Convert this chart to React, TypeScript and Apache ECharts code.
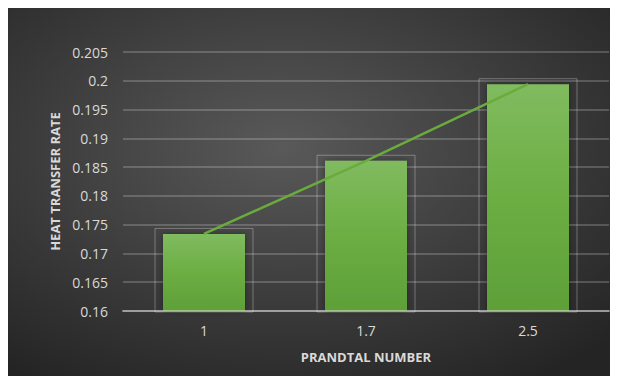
import React, { useEffect, useRef } from "react";
import * as echarts from "echarts";

const categories = ["1", "1.7", "2.5"];
const heatTransferRate = [0.1734, 0.1861, 0.1994];
const yTicks = { min: 0.16, max: 0.205, interval: 0.005 };

export default function App() {
  const ref = useRef<HTMLDivElement>(null);
  useEffect(() => {
    document.body.style.overflow = "hidden";
    const chart = echarts.init(ref.current!, null, { renderer: "svg" });
    const font = "'Open Sans', 'Liberation Sans', sans-serif";
    chart.setOption({
      animation: false,
      backgroundColor: {
        type: "radial",
        x: 0.45,
        y: 0.38,
        r: 0.75,
        colorStops: [
          { offset: 0, color: "#595959" },
          { offset: 1, color: "#242424" },
        ],
      },
      grid: { left: 115, right: 9, top: 44, bottom: 65 },
      xAxis: {
        type: "category",
        data: categories,
        z: 5,
        name: "PRANDTAL NUMBER",
        nameLocation: "middle",
        nameGap: 39,
        nameTextStyle: { color: "#d9d9d9", fontSize: 13, fontWeight: "bold", fontFamily: font },
        axisLine: { lineStyle: { color: "rgba(225,225,225,0.5)", width: 2 } },
        axisTick: { show: false },
        axisLabel: { color: "#d9d9d9", fontSize: 14, fontFamily: font, margin: 12 },
      },
      yAxis: {
        type: "value",
        min: yTicks.min,
        max: yTicks.max,
        interval: yTicks.interval,
        name: "HEAT TRANSFER RATE",
        nameLocation: "middle",
        nameGap: 56,
        nameTextStyle: { color: "#d9d9d9", fontSize: 13, fontWeight: "bold", fontFamily: font },
        axisLine: { show: false },
        axisTick: { show: false },
        axisLabel: {
          color: "#d9d9d9",
          fontSize: 14,
          fontFamily: font,
          margin: 15,
          formatter: (v: number) => String(+v.toFixed(3)),
        },
        splitLine: { lineStyle: { color: "rgba(255,255,255,0.25)", width: 1.5 } },
      },
      series: [
        {
          type: "custom",
          z: 1,
          data: heatTransferRate.map((v, i) => [i, v]),
          renderItem: (params: any, api: any) => {
            const top = api.coord([api.value(0), api.value(1)]);
            const base = api.coord([api.value(0), yTicks.min]);
            const half = 49;
            return {
              type: "rect",
              shape: { x: top[0] - half, y: top[1] - 5.5, width: half * 2, height: base[1] - top[1] + 6.5 },
              style: { fill: "none", stroke: "rgba(255,255,255,0.3)", lineWidth: 1 },
            };
          },
        },
        {
          type: "bar",
          z: 2,
          data: heatTransferRate,
          barWidth: 82,
          itemStyle: {
            color: {
              type: "linear",
              x: 0,
              y: 0,
              x2: 0,
              y2: 1,
              colorStops: [
                { offset: 0, color: "#80bb5f" },
                { offset: 0.5, color: "#6cae43" },
                { offset: 1, color: "#5e9f38" },
              ],
            },
            shadowColor: "rgba(0,0,0,0.35)",
            shadowBlur: 6,
          },
        },
        {
          type: "line",
          z: 3,
          data: heatTransferRate,
          symbol: "none",
          lineStyle: { color: "#6aab3d", width: 2.5 },
        },
      ],
    });
    return () => chart.dispose();
  }, []);
  return <div ref={ref} style={{ width: 610, height: 368 }} />;
}
